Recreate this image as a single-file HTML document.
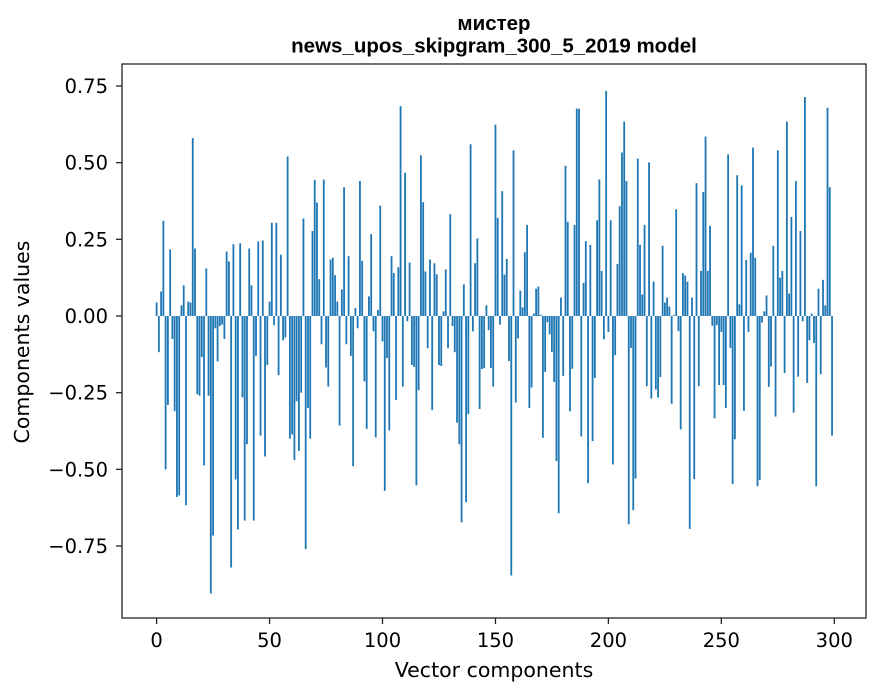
<!DOCTYPE html>
<html><head><meta charset="utf-8"><style>
body{margin:0;background:#fff;}
svg{display:block;font-family:"DejaVu Sans","Liberation Sans",sans-serif;}
</style></head><body>
<svg id="chart" width="880" height="696" viewBox="0 0 880 696">
<rect x="0" y="0" width="880" height="696" fill="#fff"/>
<text x="494" y="30" text-anchor="middle" font-size="20.5" font-weight="bold" font-family="Liberation Sans, sans-serif">мистер</text>
<text x="494" y="52.5" text-anchor="middle" font-size="20.5" font-weight="bold" font-family="Liberation Sans, sans-serif">news_upos_skipgram_300_5_2019 model</text>
<g id="bars"></g>
<g id="xticks"></g>
<g id="yticks"></g>
<rect x="122" y="64" width="744" height="554" fill="none" stroke="#222" stroke-width="1.3"/>
<text x="494" y="677" text-anchor="middle" font-size="20.5">Vector components</text>
<text x="29" y="342" text-anchor="middle" font-size="20.5" transform="rotate(-90 29 342)">Components values</text>
</svg>
<script>
const values = [0.044,-0.118,0.08,0.31,-0.50,-0.29,0.217,-0.075,-0.31,-0.59,-0.585,0.035,0.10,-0.617,0.047,0.044,0.58,0.22,-0.255,-0.26,-0.134,-0.487,0.155,-0.26,-0.905,-0.716,-0.04,-0.148,-0.033,-0.028,-0.075,0.21,0.178,-0.82,0.234,-0.533,-0.696,0.237,-0.265,-0.667,-0.418,0.22,0.10,-0.667,-0.13,0.243,-0.39,0.246,-0.458,-0.16,0.047,
0.304,-0.03,0.304,-0.193,0.20,-0.079,-0.07,0.52,-0.40,-0.386,-0.47,-0.278,-0.44,-0.25,0.318,-0.76,-0.30,-0.40,0.277,0.444,0.37,0.12,-0.092,0.445,-0.168,-0.23,0.184,0.19,0.133,0.047,-0.357,0.087,0.42,-0.092,0.195,-0.13,-0.49,0.026,-0.04,0.44,0.18,-0.213,-0.368,0.064,0.267,-0.05,-0.396,0.02,0.36,-0.083,-0.57,
-0.137,-0.373,0.195,0.14,-0.274,0.159,0.684,-0.23,0.467,-0.017,0.174,-0.16,-0.166,-0.552,-0.242,0.524,0.371,0.145,-0.105,0.184,-0.307,0.172,0.136,-0.16,-0.163,0.015,0.152,-0.105,0.332,-0.033,-0.118,-0.348,-0.418,-0.673,0.103,-0.607,-0.32,0.56,-0.05,0.172,0.253,-0.303,-0.173,-0.17,0.035,-0.046,-0.17,-0.23,
0.624,0.32,-0.028,0.407,0.135,0.186,-0.147,-0.846,0.54,-0.282,-0.073,0.083,0.028,0.208,0.297,-0.30,-0.233,0.008,0.089,0.096,0.004,-0.397,-0.182,-0.02,-0.06,-0.117,-0.215,-0.473,-0.643,0.06,-0.195,0.49,0.307,-0.311,-0.172,0.297,0.676,0.676,-0.393,0.108,0.244,-0.545,0.232,-0.408,-0.202,0.312,0.445,0.147,-0.076,0.734,-0.052,0.312,
-0.484,-0.128,0.17,0.358,0.533,0.634,0.44,-0.679,-0.104,-0.633,-0.53,0.513,0.232,0.07,0.297,-0.229,0.501,-0.269,0.112,-0.24,-0.266,-0.199,0.229,0.044,0.06,0.031,-0.286,0.003,0.348,-0.049,-0.37,0.14,0.132,0.112,-0.694,0.06,-0.532,0.433,-0.229,0.147,0.404,0.585,0.147,0.294,-0.032,-0.334,-0.03,-0.225,-0.052,-0.225,
-0.30,0.527,-0.104,-0.548,-0.402,0.459,0.038,0.426,-0.309,0.183,-0.052,0.206,0.549,0.19,-0.555,-0.535,-0.021,0.015,0.067,-0.231,-0.165,0.229,-0.328,0.54,0.125,0.147,-0.186,0.634,0.073,0.323,-0.315,0.44,-0.198,0.277,-0.017,0.714,-0.218,-0.079,0.008,-0.088,-0.555,0.089,-0.19,0.118,0.035,0.679,0.42,-0.39];
const xTickValues = [0,50,100,150,200,250,300];
const xTickLabels = ["0","50","100","150","200","250","300"];
const yTickValues = [0.75,0.5,0.25,0,-0.25,-0.5,-0.75];
const yTickLabels = ["0.75","0.50","0.25","0.00","\u22120.25","\u22120.50","\u22120.75"];

const NS = "http://www.w3.org/2000/svg";
function xScale(i){ return 156.6 + i * 2.259; }
function yScale(v){ return 316 - v * 306.7; }
const bw = 0.8 * 2.259;

const bars = document.getElementById('bars');
values.forEach(function(v, i){
  const r = document.createElementNS(NS, 'rect');
  const y0 = yScale(0), y1 = yScale(v);
  r.setAttribute('x', (xScale(i) - bw/2).toFixed(2));
  r.setAttribute('y', Math.min(y0, y1).toFixed(2));
  r.setAttribute('width', bw.toFixed(2));
  r.setAttribute('height', Math.max(Math.abs(y1 - y0), 0.3).toFixed(2));
  r.setAttribute('fill', '#1f77b4');
  
  
  bars.appendChild(r);
});

const xg = document.getElementById('xticks');
xTickValues.forEach(function(t, k){
  const x = xScale(t);
  const l = document.createElementNS(NS, 'line');
  l.setAttribute('x1', x); l.setAttribute('x2', x);
  l.setAttribute('y1', 618); l.setAttribute('y2', 624);
  l.setAttribute('stroke', '#222'); l.setAttribute('stroke-width', '1.3');
  
  
  xg.appendChild(l);
  const tx = document.createElementNS(NS, 'text');
  tx.setAttribute('x', x); tx.setAttribute('y', 647);
  tx.setAttribute('text-anchor', 'middle'); tx.setAttribute('font-size', '19.5');
  tx.textContent = xTickLabels[k];
  
  
  xg.appendChild(tx);
});

const yg = document.getElementById('yticks');
yTickValues.forEach(function(t, k){
  const y = yScale(t);
  const l = document.createElementNS(NS, 'line');
  l.setAttribute('x1', 116); l.setAttribute('x2', 122);
  l.setAttribute('y1', y); l.setAttribute('y2', y);
  l.setAttribute('stroke', '#222'); l.setAttribute('stroke-width', '1.3');
  
  
  yg.appendChild(l);
  const tx = document.createElementNS(NS, 'text');
  tx.setAttribute('x', 108); tx.setAttribute('y', y + 7);
  tx.setAttribute('text-anchor', 'end'); tx.setAttribute('font-size', '19.5');
  tx.textContent = yTickLabels[k];
  
  
  yg.appendChild(tx);
});
</script>
</body></html>
